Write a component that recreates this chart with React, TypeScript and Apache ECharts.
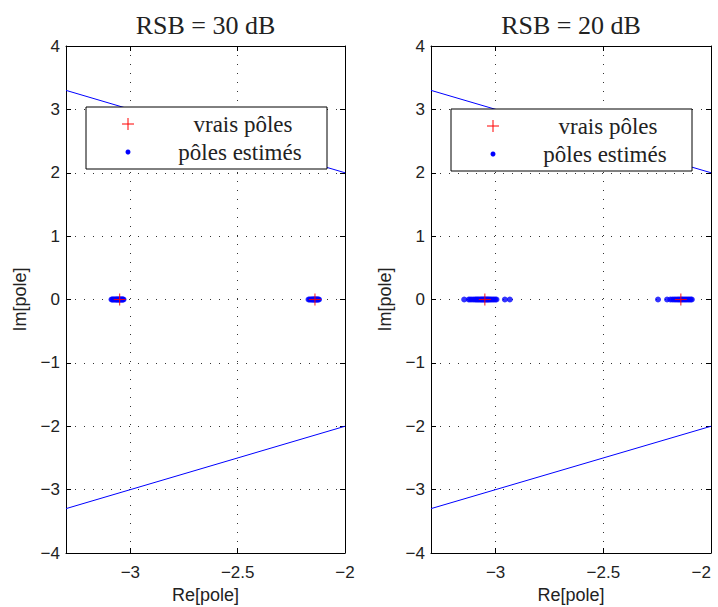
import React, { useEffect, useRef } from "react";
import * as echarts from "echarts";

const titles = ["RSB = 30 dB", "RSB = 20 dB"];
const xTicks = [-3, -2.5, -2];
const yTicks = [-4, -3, -2, -1, 0, 1, 2, 3, 4];
const xMin = -3.3;
const xMax = -2;
const yMin = -4;
const yMax = 4;
const legendLabels = ["vrais pôles", "pôles estimés"];
const axisNames = ["Re[pole]", "Im[pole]"];

// true poles (real parts, imaginary part 0)
const trueRe = [-3.05, -2.14];
// estimated poles, RSB = 30 dB (real parts, imaginary part 0)
const est30Re = [
  -3.088, -3.084, -3.08, -3.076, -3.072, -3.068, -3.065, -3.062, -3.059, -3.056,
  -3.053, -3.05, -3.047, -3.044, -3.041, -3.038, -3.035, -3.032,
  -2.17, -2.165, -2.16, -2.156, -2.152, -2.149, -2.146, -2.143, -2.14, -2.137,
  -2.134, -2.131, -2.128, -2.125, -2.121,
];
// estimated poles, RSB = 20 dB
const est20Re = [
  -3.146, -3.125, -3.118, -3.11, -3.102, -3.095, -3.09, -3.085, -3.08, -3.075,
  -3.07, -3.066, -3.062, -3.058, -3.054, -3.05, -3.046, -3.042, -3.038, -3.034,
  -3.03, -3.025, -3.02, -3.014, -3.008, -3.002, -2.996, -2.957, -2.934,
  -2.246, -2.204, -2.189, -2.18, -2.172, -2.165, -2.158, -2.152, -2.146, -2.14,
  -2.135, -2.13, -2.124, -2.118, -2.112, -2.106, -2.1, -2.094, -2.089,
];
// boundary lines Im = ±Re
const boundaryRe = [-3.3, -2];

const gridsPx = [
  { left: 66, width: 279 },
  { left: 431, width: 280 },
];
const TOP = 46;
const HEIGHT = 507;

const SANS = "Liberation Sans";
const SERIF = "Liberation Serif";
const TXT = "#222";

const fmt = (v: number) => (v < 0 ? "\u2212" + String(Math.abs(v)) : String(v));

export default function App() {
  const ref = useRef<HTMLDivElement>(null);
  useEffect(() => {
    if (!ref.current) return;
    const chart = echarts.init(ref.current, undefined, { renderer: "svg" });

    const grid: any[] = [];
    const xAxis: any[] = [];
    const yAxis: any[] = [];
    const series: any[] = [];
    const graphic: any[] = [];
    const estSets = [est30Re, est20Re];
    const legendTops = [107, 109];

    gridsPx.forEach((g, i) => {
      grid.push({
        left: g.left,
        width: g.width,
        top: TOP,
        height: HEIGHT,
        show: false,
        containLabel: false,
        outerBoundsMode: "none",
      });
      const baseX = {
        gridIndex: i,
        type: "value",
        min: xMin,
        max: xMax,
        axisLine: { show: true, onZero: false, lineStyle: { color: "#000", width: 1 } },
        axisTick: { show: true, inside: true, length: 5, customValues: xTicks, lineStyle: { color: "#000" } },
      };
      xAxis.push({
        ...baseX,
        position: "bottom",
        axisLabel: {
          customValues: xTicks,
          formatter: fmt,
          fontSize: 17,
          fontFamily: SANS,
          color: TXT,
          margin: 11,
          hideOverlap: false,
          ...(i === 1 ? { alignMaxLabel: "right" } : {}),
        },
        splitLine: { show: true, lineStyle: { type: [1, 8], color: "#333", width: 1 } },
      });
      xAxis.push({
        ...baseX,
        position: "top",
        axisLabel: { show: false, customValues: xTicks },
        splitLine: { show: false },
      });
      const baseY = {
        gridIndex: i,
        type: "value",
        min: yMin,
        max: yMax,
        interval: 1,
        axisLine: { show: true, onZero: false, lineStyle: { color: "#000", width: 1 } },
        axisTick: { show: true, inside: true, length: 5, lineStyle: { color: "#000" } },
      };
      yAxis.push({
        ...baseY,
        position: "left",
        axisLabel: { formatter: fmt, fontSize: 17, fontFamily: SANS, color: TXT, margin: 6 },
        splitLine: { show: true, lineStyle: { type: [1, 8], color: "#333", width: 1 } },
      });
      yAxis.push({
        ...baseY,
        position: "right",
        axisLabel: { show: false },
        splitLine: { show: false },
      });

      const xi = i * 2;
      const yi = i * 2;
      series.push({
        type: "line",
        xAxisIndex: xi,
        yAxisIndex: yi,
        data: boundaryRe.map((r) => [r, -r]),
        symbol: "none",
        lineStyle: { color: "#0000ff", width: 1 },
        z: 2,
      });
      series.push({
        type: "line",
        xAxisIndex: xi,
        yAxisIndex: yi,
        data: boundaryRe.map((r) => [r, r]),
        symbol: "none",
        lineStyle: { color: "#0000ff", width: 1 },
        z: 2,
      });
      series.push({
        type: "scatter",
        name: legendLabels[1],
        xAxisIndex: xi,
        yAxisIndex: yi,
        data: estSets[i].map((r) => [r, 0]),
        symbol: "circle",
        symbolSize: 6,
        itemStyle: { color: "#0000ff" },
        z: 3,
      });
      series.push({
        type: "scatter",
        name: legendLabels[0],
        xAxisIndex: xi,
        yAxisIndex: yi,
        data: trueRe.map((r) => [r, 0]),
        symbol: "path://M5,0h1v11h-1zM0,5h11v1h-11z",
        symbolSize: 12,
        itemStyle: { color: "#ff0000", opacity: 0.85 },
        z: 4,
      });

      const cx = g.left + g.width / 2;
      graphic.push({
        type: "text",
        x: cx,
        y: 25,
        style: {
          text: titles[i],
          fontSize: 26,
          fontFamily: SERIF,
          fill: TXT,
          align: "center",
          verticalAlign: "middle",
        },
      });
      // axis names
      graphic.push({
        type: "text",
        x: cx,
        y: 595,
        style: {
          text: axisNames[0],
          fontSize: 18,
          fontFamily: SANS,
          fill: TXT,
          align: "center",
          verticalAlign: "middle",
        },
      });
      graphic.push({
        type: "text",
        x: g.left - 46,
        y: TOP + HEIGHT / 2,
        rotation: Math.PI / 2,
        style: {
          text: axisNames[1],
          fontSize: 18,
          fontFamily: SANS,
          fill: TXT,
          align: "center",
          verticalAlign: "middle",
        },
      });
      const lx = g.left + 20;
      const ly = legendTops[i];
      graphic.push({
        type: "group",
        z: 100,
        children: [
          {
            type: "rect",
            shape: { x: lx, y: ly, width: 241, height: 62 },
            style: { fill: "#fff", stroke: "#000", lineWidth: 1 },
            z: 100,
          },
          {
            type: "line",
            shape: { x1: lx + 36, y1: ly + 17, x2: lx + 48, y2: ly + 17 },
            style: { stroke: "#ff0000", lineWidth: 1 },
            z: 101,
          },
          {
            type: "line",
            shape: { x1: lx + 42, y1: ly + 11, x2: lx + 42, y2: ly + 23 },
            style: { stroke: "#ff0000", lineWidth: 1 },
            z: 101,
          },
          {
            type: "circle",
            shape: { cx: lx + 42, cy: ly + 45, r: 2.5 },
            style: { fill: "#0000ff" },
            z: 101,
          },
          {
            type: "text",
            x: lx + 157,
            y: ly + 17,
            style: {
              text: legendLabels[0],
              fontSize: 23,
              fontFamily: SERIF,
              fill: TXT,
              align: "center",
              verticalAlign: "middle",
            },
            z: 101,
          },
          {
            type: "text",
            x: lx + 154,
            y: ly + 45,
            style: {
              text: legendLabels[1],
              fontSize: 23,
              fontFamily: SERIF,
              fill: TXT,
              align: "center",
              verticalAlign: "middle",
            },
            z: 101,
          },
        ],
      });
    });

    chart.setOption({
      animation: false,
      backgroundColor: "#fff",
      grid,
      xAxis,
      yAxis,
      series,
      graphic,
    });
    return () => chart.dispose();
  }, []);
  return <div ref={ref} style={{ width: 718, height: 607, position: "absolute", left: 0, top: 0 }} />;
}
